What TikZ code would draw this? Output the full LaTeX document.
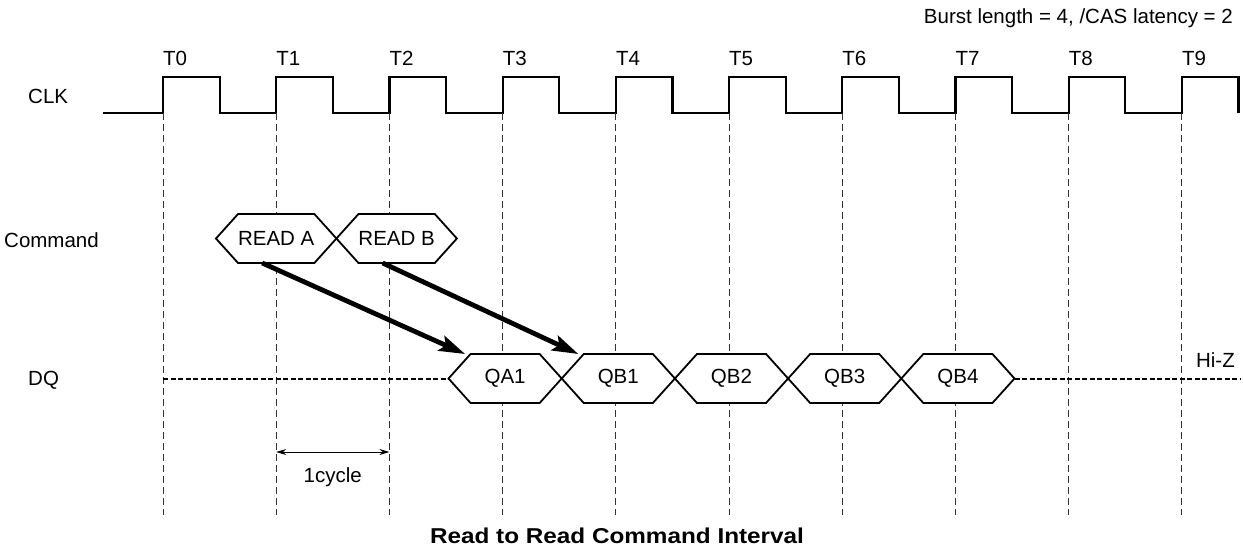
\documentclass[tikz,border=0pt]{standalone}
\usepackage{fontspec}
\setmainfont{Liberation Sans}
\newfontfamily\captionfont[FakeStretch=1.13]{Liberation Sans}
\usepackage{tikz}
\usetikzlibrary{arrows.meta}
\usetikzlibrary{positioning}
\usetikzlibrary{shapes.symbols}
\tikzset{
  sigtext/.style={
    font=\fontsize{20.5}{24}\selectfont,
    inner sep=0pt
  },
  clkline/.style={
    line width=2.2pt
  },
  guideline/.style={
    draw=black!80,
    line width=0.9pt,
    dash pattern=on 7pt off 4pt
  },
  hizline/.style={
    line width=2pt,
    dash pattern=on 5pt off 2.5pt
  },
  hexbox/.style={
    draw,
    fill=white,
    line width=1.8pt,
    signal,
    signal to=east and west,
    signal pointer angle=96,
    minimum width=113.2pt,
    minimum height=49pt,
    inner sep=0pt,
    outer sep=0pt,
    font=\fontsize{20.5}{24}\selectfont
  },
  latency/.style={
    line width=4.8pt,
    -{Stealth[length=26pt, width=16pt, inset=5pt]}
  },
  cyclearrow/.style={
    line width=1pt,
    {Stealth[length=10pt, width=6pt]}-{Stealth[length=10pt, width=6pt]}
  }
}

\begin{document}
\begin{tikzpicture}[x=1pt, y=-1pt]

\useasboundingbox (0,0) rectangle (1243,550);

% Clock
\draw[clkline] (103,113)
  \foreach \k in {0,...,9} {
    -- ({163+113.2*\k},113) -- ++(0,-36) -- ++(56.6,0) -- ++(0,36)
  };

% Rising edges, labels and guide lines
\foreach \k in {0,...,9} {
  \coordinate (rise\k) at ({163+113.2*\k},113);
  \coordinate (foot\k) at ({163+113.2*\k},515);
  \node [sigtext, anchor=base west] (t\k) at ({163+113.2*\k},65) {T\k};
  \draw[guideline] (rise\k) -- (foot\k);
}

% Row names
\node [sigtext, anchor=base west] (clk) at (28,103) {CLK};
\node [sigtext, anchor=base west] (cmd) at (4,247) {Command};
\node [sigtext, anchor=base west] (dq) at (28,385) {DQ};

\node [sigtext, anchor=base east] (burst) at (1233,23)
  {Burst length = 4, /CAS latency = 2};

% Commands
\node [hexbox] (reada) at (276.2,238.5) {READ A};

\node [hexbox,
    right=0pt of reada
]  (readb) {READ B};

% Data out
\node [hexbox] (qa1) at (505.1,378.5) {QA1};

\node [hexbox,
    right=0pt of qa1
]  (qb1) {QB1};

\node [hexbox,
    right=0pt of qb1
]  (qb2) {QB2};

\node [hexbox,
    right=0pt of qb2
]  (qb3) {QB3};

\node [hexbox,
    right=0pt of qb3
]  (qb4) {QB4};

\coordinate (hizend) at (1241,378.5);
\draw[hizline] (rise0 |- qa1.west) -- (qa1.west);
\draw[hizline] (qb4.east) -- (hizend);

\node [sigtext, anchor=base east] (hiz) at (1235,367) {Hi-Z};

% CAS latency
\draw[latency] ([xshift=-14pt]reada.south) -- ([xshift=-40pt]qa1.north);
\draw[latency] ([xshift=-14pt]readb.south) -- ([xshift=-40pt]qb1.north);

% One clock period
\coordinate (cycA) at (276.2,452);
\coordinate (cycB) at (389.4,452);
\draw[cyclearrow] (cycA) -- (cycB);
\node [sigtext, anchor=base] (cyclabel) at (332.8,482) {1cycle};

% Caption
\node [sigtext,
    font=\captionfont\bfseries\fontsize{21.5}{24}\selectfont,
    anchor=base
]  (title) at (617,543) {Read to Read Command Interval};

\end{tikzpicture}
\end{document}
